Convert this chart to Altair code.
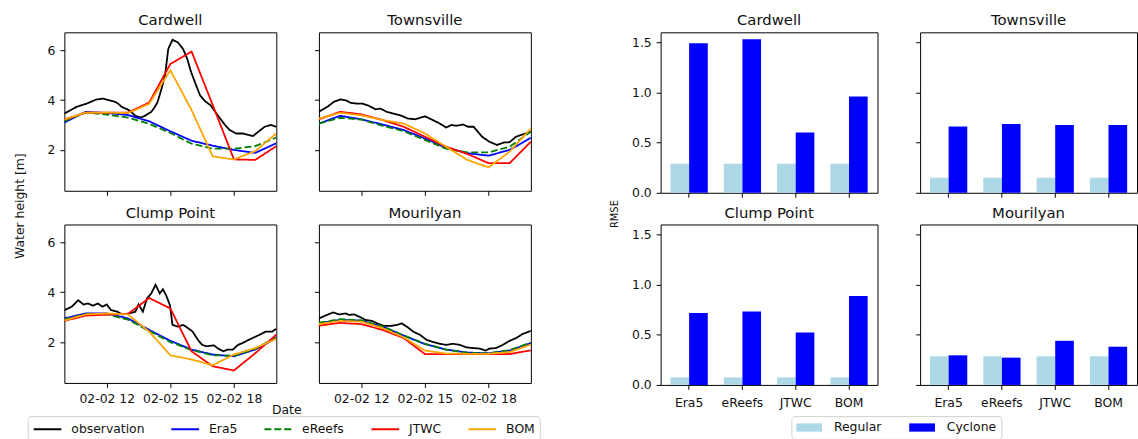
import altair as alt
import pandas as pd

FONT = "DejaVu Sans"
STATIONS = ["Cardwell", "Townsville", "Clump Point", "Mourilyan"]
SERIES = ["observation", "Era5", "eReefs", "JTWC", "BOM"]
SERIES_COLORS = ["black", "blue", "green", "red", "orange"]
SERIES_DASH = [[1, 0], [1, 0], [7, 3], [1, 0], [1, 0]]
MODEL_HOURS = [10, 11, 12, 13, 14, 15, 16, 17, 18, 19, 20]
X_TICKS = [12, 15, 18]
Y_TICKS = [2, 4, 6]

# observation (hour of 02-02, water height)
CARDWELL_OBS_T = [10.0, 10.3, 10.58, 11.05, 11.3, 11.5, 11.8, 12.1, 12.4, 12.55, 12.7, 13.05, 13.35, 13.6,
                  13.8, 14.1, 14.25, 14.4, 14.6, 14.75, 14.9, 15.1, 15.35, 15.6, 15.8, 15.95, 16.1, 16.4,
                  16.65, 16.9, 17.1, 17.35, 17.6, 17.8, 18.1, 18.4, 18.7, 18.9, 19.15, 19.45, 19.75, 20.0]
CARDWELL_OBS = [3.46, 3.6, 3.73, 3.86, 3.95, 4.02, 4.06, 4.0, 3.93, 3.85, 3.73, 3.6, 3.37, 3.3,
                3.37, 3.53, 3.7, 3.93, 4.5, 4.99, 6.05, 6.42, 6.32, 6.05, 5.65, 5.2, 4.85, 4.19,
                3.95, 3.79, 3.55, 3.26, 2.98, 2.8, 2.66, 2.66, 2.6, 2.56, 2.73, 2.93, 3.0, 2.93]
TOWNSVILLE_OBS_T = [10.0, 10.4, 10.7, 11.03, 11.27, 11.5, 11.8, 12.05, 12.36, 12.67, 12.9, 13.2, 13.5, 13.9,
                    14.2, 14.55, 14.77, 15.0, 15.3, 15.7, 16.0, 16.25, 16.5, 16.8, 17.03, 17.3, 17.5, 17.7,
                    18.04, 18.4, 18.74, 18.98, 19.3, 19.6, 20.0]
TOWNSVILLE_OBS = [3.53, 3.73, 3.93, 4.03, 3.99, 3.89, 3.86, 3.86, 3.77, 3.63, 3.66, 3.53, 3.46, 3.37,
                  3.26, 3.23, 3.29, 3.35, 3.23, 3.06, 2.9, 3.0, 2.97, 3.02, 2.93, 2.93, 2.73, 2.53,
                  2.33, 2.2, 2.3, 2.3, 2.53, 2.62, 2.73]
CLUMP_OBS_T = [10.0, 10.35, 10.65, 10.9, 11.12, 11.35, 11.58, 11.8, 12.0, 12.2, 12.5, 12.74, 13.05, 13.35,
               13.5, 13.7, 13.9, 14.1, 14.3, 14.5, 14.65, 14.8, 14.98, 15.1, 15.35, 15.6, 15.8, 16.05,
               16.3, 16.5, 16.7, 17.05, 17.25, 17.5, 17.7, 17.95, 18.2, 18.4, 18.7, 18.95, 19.2, 19.5,
               19.8, 20.0]
CLUMP_OBS = [3.28, 3.42, 3.68, 3.51, 3.55, 3.46, 3.55, 3.42, 3.51, 3.28, 3.22, 3.11, 3.15, 3.22,
             3.51, 3.22, 3.75, 3.95, 4.3, 3.95, 4.12, 3.88, 3.48, 2.69, 2.62, 2.69, 2.58, 2.42,
             2.09, 1.89, 1.83, 1.87, 1.74, 1.63, 1.7, 1.7, 1.89, 1.96, 2.09, 2.19, 2.29, 2.42,
             2.42, 2.53]
MOURILYAN_OBS_T = [10.0, 10.3, 10.67, 10.95, 11.27, 11.42, 11.66, 11.9, 12.2, 12.5, 12.75, 13.06, 13.4, 13.7,
                   13.9, 14.15, 14.45, 14.77, 15.08, 15.4, 15.7, 16.0, 16.33, 16.64, 16.95, 17.26, 17.58,
                   17.86, 18.05, 18.36, 18.68, 19.0, 19.3, 19.6, 20.0]
MOURILYAN_OBS = [2.95, 3.06, 3.19, 3.11, 3.15, 3.09, 3.11, 3.02, 2.89, 2.85, 2.75, 2.65, 2.65, 2.69,
                 2.75, 2.62, 2.42, 2.29, 2.09, 2.0, 1.93, 1.89, 1.93, 1.89, 1.79, 1.76, 1.74,
                 1.66, 1.74, 1.76, 1.89, 2.05, 2.16, 2.32, 2.45]

# model series at MODEL_HOURS
CARDWELL_ERA5 = [3.1, 3.53, 3.48, 3.4, 3.15, 2.75, 2.37, 2.17, 2.0, 1.88, 2.27]
CARDWELL_EREEFS = [3.15, 3.5, 3.42, 3.3, 3.05, 2.68, 2.25, 2.05, 2.05, 2.15, 2.5]
CARDWELL_JTWC = [3.22, 3.5, 3.5, 3.5, 3.9, 5.45, 5.95, 3.8, 1.62, 1.6, 2.15]
CARDWELL_BOM = [3.22, 3.5, 3.5, 3.48, 3.85, 5.2, 3.6, 1.74, 1.62, 1.95, 2.66]
TOWNSVILLE_ERA5 = [3.06, 3.37, 3.23, 3.02, 2.8, 2.46, 2.09, 1.87, 1.77, 2.0, 2.49]
TOWNSVILLE_EREEFS = [3.06, 3.29, 3.22, 2.97, 2.75, 2.4, 2.05, 1.9, 1.9, 2.13, 2.73]
TOWNSVILLE_JTWC = [3.23, 3.53, 3.43, 3.2, 2.93, 2.53, 2.13, 1.84, 1.47, 1.47, 2.33]
TOWNSVILLE_BOM = [3.26, 3.49, 3.39, 3.2, 3.06, 2.66, 2.13, 1.6, 1.3, 1.93, 2.86]
CLUMP_ERA5 = [2.95, 3.15, 3.15, 2.95, 2.49, 2.05, 1.7, 1.5, 1.43, 1.7, 2.16]
CLUMP_EREEFS = [2.92, 3.12, 3.12, 2.9, 2.45, 2.0, 1.68, 1.47, 1.45, 1.72, 2.2]
CLUMP_JTWC = [2.85, 3.06, 3.1, 3.13, 3.77, 3.35, 1.63, 1.03, 0.86, 1.55, 2.3]
CLUMP_BOM = [2.87, 3.11, 3.15, 3.11, 2.42, 1.47, 1.3, 1.07, 1.5, 1.76, 2.13]
MOURILYAN_ERA5 = [2.75, 2.89, 2.86, 2.62, 2.26, 1.92, 1.7, 1.58, 1.55, 1.66, 1.96]
MOURILYAN_EREEFS = [2.78, 2.92, 2.87, 2.63, 2.27, 1.93, 1.7, 1.57, 1.55, 1.68, 1.98]
MOURILYAN_JTWC = [2.66, 2.77, 2.72, 2.49, 2.16, 1.52, 1.52, 1.52, 1.52, 1.52, 1.67]
MOURILYAN_BOM = [2.72, 2.85, 2.82, 2.56, 2.19, 1.66, 1.54, 1.53, 1.53, 1.6, 1.9]

# RMSE bars
MODELS = ["Era5", "eReefs", "JTWC", "BOM"]
KINDS = ["Regular", "Cyclone"]
KIND_COLORS = ["#add8e6", "#0000ff"]
RMSE_REGULAR = {"Cardwell": [0.29, 0.29, 0.29, 0.29], "Townsville": [0.15, 0.15, 0.15, 0.15],
                "Clump Point": [0.075, 0.075, 0.075, 0.075], "Mourilyan": [0.285, 0.285, 0.285, 0.285]}
RMSE_CYCLONE = {"Cardwell": [1.49, 1.53, 0.60, 0.96], "Townsville": [0.66, 0.686, 0.676, 0.676],
                "Clump Point": [0.716, 0.732, 0.522, 0.886], "Mourilyan": [0.295, 0.272, 0.44, 0.381]}

OBS = {"Cardwell": (CARDWELL_OBS_T, CARDWELL_OBS), "Townsville": (TOWNSVILLE_OBS_T, TOWNSVILLE_OBS),
       "Clump Point": (CLUMP_OBS_T, CLUMP_OBS), "Mourilyan": (MOURILYAN_OBS_T, MOURILYAN_OBS)}
MODEL_SERIES = {
    "Cardwell": [CARDWELL_ERA5, CARDWELL_EREEFS, CARDWELL_JTWC, CARDWELL_BOM],
    "Townsville": [TOWNSVILLE_ERA5, TOWNSVILLE_EREEFS, TOWNSVILLE_JTWC, TOWNSVILLE_BOM],
    "Clump Point": [CLUMP_ERA5, CLUMP_EREEFS, CLUMP_JTWC, CLUMP_BOM],
    "Mourilyan": [MOURILYAN_ERA5, MOURILYAN_EREEFS, MOURILYAN_JTWC, MOURILYAN_BOM],
}

rows = []
for st in STATIONS:
    ts, vs = OBS[st]
    for t, v in zip(ts, vs):
        rows.append({"station": st, "series": "observation", "t": t, "v": v})
    for name, vals in zip(SERIES[1:], MODEL_SERIES[st]):
        for t, v in zip(MODEL_HOURS, vals):
            rows.append({"station": st, "series": name, "t": t, "v": v})
line_df = pd.DataFrame(rows)

brows = []
for st in STATIONS:
    for m, r, c in zip(MODELS, RMSE_REGULAR[st], RMSE_CYCLONE[st]):
        brows.append({"station": st, "model": m, "kind": "Regular", "rmse": r})
        brows.append({"station": st, "model": m, "kind": "Cyclone", "rmse": c})
bar_df = pd.DataFrame(brows)

TXT = "#111111"
LW, LH = 214, 160
BW, BH = 219, 162


def title(s):
    return alt.Title(s, fontSize=15, font=FONT, fontWeight="normal", color=TXT,
                     offset=-8, baseline="alphabetic", anchor="middle")


line_legend = alt.Legend(orient="none", legendX=-37, legendY=387.5, direction="horizontal", columns=5,
                         title=None, symbolType="M-2,0H2", symbolSize=196, symbolOffset=7,
                         symbolStrokeWidth=2, labelFont=FONT, labelFontSize=12.5, labelColor=TXT,
                         labelOffset=16, columnPadding=23, padding=5, strokeColor="#d0d0d0",
                         fillColor="white", cornerRadius=3, labelLimit=200)


def line_panel(st, xlab, ylab, xtitle=False, ytitle=False):
    d = line_df[line_df.station == st]
    xa = dict(values=X_TICKS, labels=xlab, labelExpr="'02-02 ' + datum.value", tickSize=4.5,
              tickColor="black", domain=False, grid=False, labelFont=FONT, labelFontSize=12.5,
              labelColor=TXT, labelPadding=5, title=None)
    if xtitle:
        xa.update(title="Date", titleX=224, titleY=26.5, titleAlign="center", titleBaseline="middle",
                  titleFont=FONT, titleFontSize=12.5, titleFontWeight="normal", titleColor=TXT)
    ya = dict(values=Y_TICKS, labels=ylab, tickSize=4.5, tickColor="black", domain=False, grid=False,
              labelFont=FONT, labelFontSize=12.5, labelColor=TXT, labelPadding=5, title=None)
    if ytitle:
        ya.update(title="Water height [m]", titleX=-45, titleY=175, titleAngle=270, titleAlign="center",
                  titleBaseline="middle", titleFont=FONT, titleFontSize=12.5, titleFontWeight="normal",
                  titleColor=TXT)
    layers = []
    for s in SERIES:
        layers.append(
            alt.Chart(d[d.series == s]).mark_line(strokeWidth=1.8, clip=True).encode(
                x=alt.X("t:Q", scale=alt.Scale(domain=[10, 20], nice=False, zero=False), axis=alt.Axis(**xa)),
                y=alt.Y("v:Q", scale=alt.Scale(domain=[0.36, 6.72], nice=False, zero=False), axis=alt.Axis(**ya)),
                color=alt.Color("series:N", scale=alt.Scale(domain=SERIES, range=SERIES_COLORS), legend=line_legend),
                strokeDash=alt.StrokeDash("series:N", scale=alt.Scale(domain=SERIES, range=SERIES_DASH),
                                          legend=line_legend),
            )
        )
    return alt.layer(*layers).properties(width=LW, height=LH, title=title(st))


bar_legend = alt.Legend(orient="none", legendX=734, legendY=387.5, direction="horizontal", columns=2,
                        title=None, symbolType="M-2,-0.64H2V0.64H-2Z", symbolSize=169, symbolOffset=6.5,
                        symbolStrokeWidth=0, symbolOpacity=1, labelFont=FONT, labelFontSize=12.5,
                        labelColor=TXT, labelOffset=18.5, columnPadding=28, padding=5, strokeColor="#d0d0d0",
                        fillColor="white", cornerRadius=3)


def bar_panel(st, xlab, ylab, ytitle=False):
    d = bar_df[bar_df.station == st]
    xa = dict(labels=xlab, tickSize=4.5, tickColor="black", domain=False, grid=False, labelAngle=0,
              labelFont=FONT, labelFontSize=12.5, labelColor=TXT, labelPadding=7, title=None)
    ya = dict(values=[0, 0.5, 1.0, 1.5], format=".1f", labels=ylab, tickSize=4.5, tickColor="black",
              domain=False, grid=False, labelFont=FONT, labelFontSize=12.5, labelColor=TXT,
              labelPadding=5, title=None)
    if ytitle:
        ya.update(title="RMSE", titleX=-47, titleY=183, titleAngle=270, titleAlign="center",
                  titleBaseline="middle", titleFont=FONT, titleFontSize=10, titleFontWeight="normal",
                  titleColor=TXT)
    return alt.Chart(d).mark_bar().encode(
        x=alt.X("model:N", sort=MODELS, scale=alt.Scale(paddingInner=0.3, paddingOuter=0.185), axis=alt.Axis(**xa)),
        xOffset=alt.XOffset("kind:N", sort=KINDS, scale=alt.Scale(paddingInner=0, paddingOuter=0)),
        y=alt.Y("rmse:Q", scale=alt.Scale(domain=[0, 1.6], nice=False), axis=alt.Axis(**ya)),
        fill=alt.Fill("kind:N", scale=alt.Scale(domain=KINDS, range=KIND_COLORS), legend=bar_legend),
    ).properties(width=BW, height=BH, title=title(st))


def spacer():
    return alt.Chart(pd.DataFrame({"a": [0]})).mark_point(opacity=0).encode(
        x=alt.X("a:Q", axis=None), y=alt.Y("a:Q", axis=None)
    ).properties(width=45, height=LH, view=alt.ViewBackground(stroke="transparent"))


panels = [
    line_panel("Cardwell", False, True, ytitle=True), line_panel("Townsville", False, False), spacer(),
    bar_panel("Cardwell", False, True, ytitle=True), bar_panel("Townsville", False, False),
    line_panel("Clump Point", True, True, xtitle=True), line_panel("Mourilyan", True, False),
    spacer(),
    bar_panel("Clump Point", True, True), bar_panel("Mourilyan", True, False),
]

chart = alt.concat(*panels, columns=5, spacing={"row": 32, "column": 43}, bounds="flush").properties(
    padding={"left": 13, "top": 10.5, "right": 0, "bottom": 0},
    background="white",
).configure_view(stroke="black", strokeWidth=1)

chart.save("out.html", embed_options={"renderer": "svg", "actions": False})
